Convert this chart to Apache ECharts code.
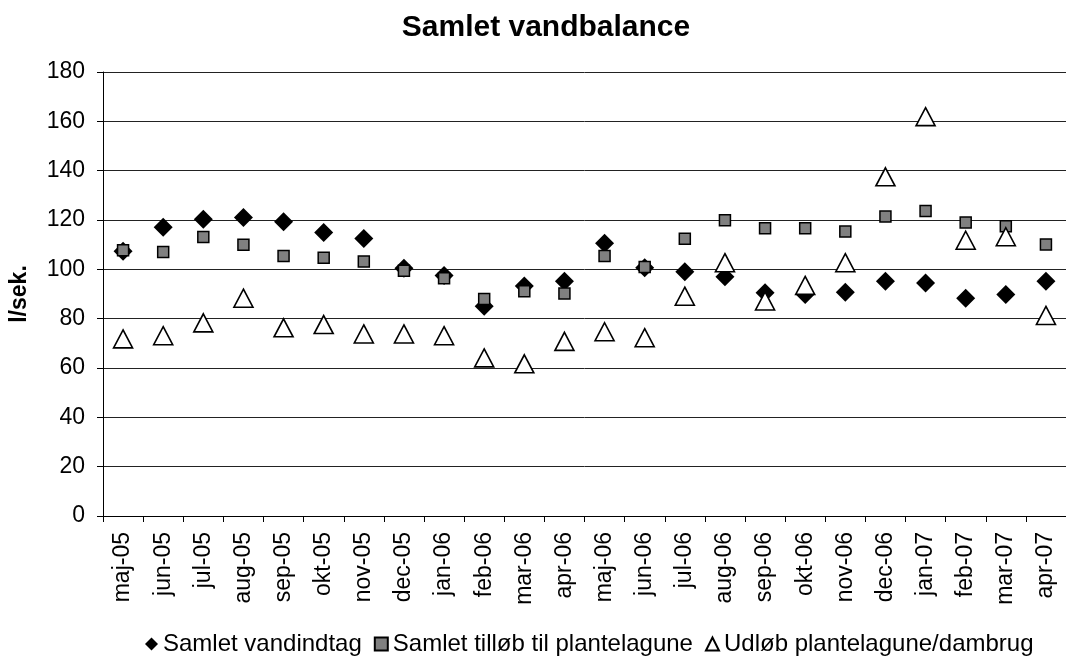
<!DOCTYPE html>
<html>
<head>
<meta charset="utf-8">
<script src="https://cdn.jsdelivr.net/npm/echarts@6/dist/echarts.min.js"></script>
<style>
  html, body { margin: 0; padding: 0; background: #fff; }
  #chart { width: 1066px; height: 666px; }
</style>
</head>
<body>
<div id="chart"></div>
<script>
// maanedsmaalinger, l/sek.
var months = ['maj-05','jun-05','jul-05','aug-05','sep-05','okt-05','nov-05','dec-05','jan-06','feb-06','mar-06','apr-06',
              'maj-06','jun-06','jul-06','aug-06','sep-06','okt-06','nov-06','dec-06','jan-07','feb-07','mar-07','apr-07']
var vandindtag = [107.3,117.1,120.3,121.0,119.3,114.9,112.5,100.4,97.5,85.0,93.2,95.2,
                  110.6,100.6,99.0,97.0,90.5,89.8,90.7,95.2,94.5,88.3,89.8,95.2]
var tilloeb = [107.7,107.0,113.1,110.0,105.4,104.7,103.2,99.4,96.4,88.0,91.1,90.2,
               105.4,100.9,112.4,119.9,116.7,116.7,115.3,121.4,123.6,119.0,117.5,110.1]
var udloeb = [71.8,73.1,78.3,88.3,76.3,77.6,73.8,73.8,73.1,64.1,61.7,70.8,
              74.7,72.3,89.1,102.7,87.2,93.5,102.7,137.5,161.9,111.8,113.2,81.3]
var seriesNames = ['Samlet vandindtag', 'Samlet tilløb til plantelagune', 'Udløb plantelagune/dambrug']
var yTicks = { min: 0, max: 180, interval: 20 }

var font = '"Liberation Sans", Arial, sans-serif'
var chart = echarts.init(document.getElementById('chart'))

var option = {
  backgroundColor: '#fff',
  animation: false,
  title: {
    text: 'Samlet vandbalance',
    left: 541,
    textAlign: 'center',
    top: 8,
    textStyle: { fontFamily: font, fontSize: 30, fontWeight: 'bold', color: '#000' }
  },
  legend: {
    left: 140,
    top: 627,
    itemGap: 12,
    itemWidth: 13,
    itemHeight: 13,
    textStyle: { fontFamily: font, fontSize: 24, color: '#000' },
    data: [
      { name: seriesNames[0], icon: 'diamond' },
      { name: seriesNames[1], icon: 'rect', itemWidth: 10, itemHeight: 10 },
      { name: seriesNames[2], icon: 'triangle' }
    ]
  },
  grid: { left: 98, top: 72, width: 973, height: 444 },
  xAxis: {
    type: 'category',
    data: months,
    boundaryGap: true,
    axisLine: { lineStyle: { color: '#000', width: 1 } },
    axisTick: { show: true, length: 6, lineStyle: { color: '#000' } },
    axisLabel: {
      rotate: 90, margin: 16, interval: 0,
      fontFamily: font, fontSize: 23, color: '#000'
    },
    splitLine: { show: false }
  },
  yAxis: {
    type: 'value',
    min: yTicks.min, max: yTicks.max, interval: yTicks.interval,
    name: 'l/sek.',
    nameLocation: 'middle',
    nameRotate: 90,
    nameGap: 72,
    nameTextStyle: { fontFamily: font, fontSize: 23, fontWeight: 'bold', color: '#000' },
    axisLine: { show: true, lineStyle: { color: '#000', width: 1 } },
    axisTick: { show: true, length: 6, lineStyle: { color: '#000' } },
    axisLabel: { margin: 18, fontFamily: font, fontSize: 23, color: '#000' },
    splitLine: { lineStyle: { color: '#222', width: 1 } }
  },
  series: [
    {
      name: seriesNames[0],
      type: 'scatter',
      symbol: 'diamond',
      symbolSize: 19,
      itemStyle: { color: '#000', opacity: 1 },
      data: vandindtag
    },
    {
      name: seriesNames[1],
      type: 'scatter',
      symbol: 'rect',
      symbolSize: 11,
      itemStyle: { color: '#808080', borderColor: '#000', borderWidth: 1.5, opacity: 1 },
      data: tilloeb
    },
    {
      name: seriesNames[2],
      type: 'scatter',
      symbol: 'triangle',
      symbolSize: [19, 18],
      itemStyle: { color: '#fff', borderColor: '#000', borderWidth: 1.6, opacity: 1 },
      data: udloeb
    }
  ]
}

chart.setOption(option)
</script>
</body>
</html>
